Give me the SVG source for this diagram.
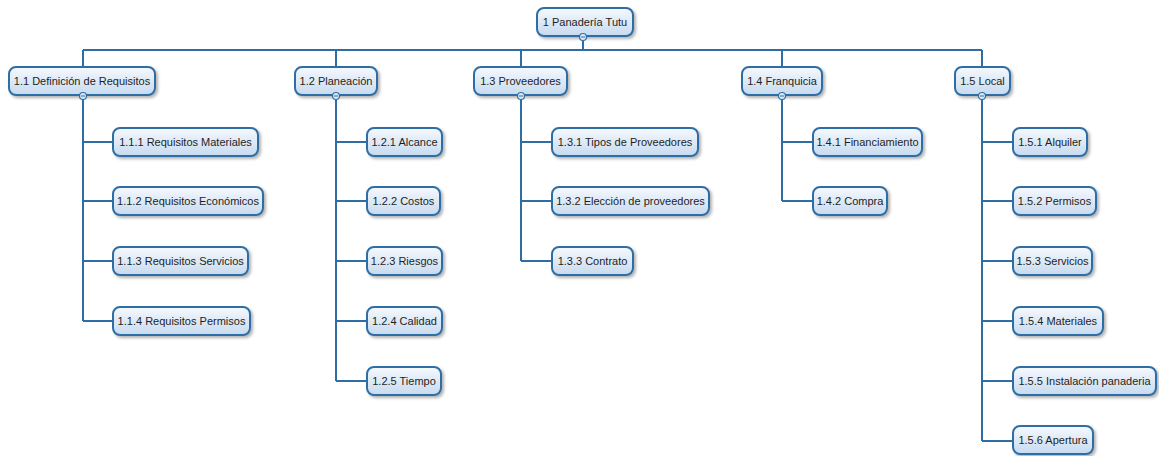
<svg xmlns="http://www.w3.org/2000/svg" width="1159" height="456" viewBox="0 0 1159 456">
<style>
.box{fill:url(#g);stroke:#2f6ea5;stroke-width:2;filter:url(#sh)}
.t{font-family:"Liberation Sans",Arial,sans-serif;font-size:11px;fill:#1e1e1e;text-anchor:middle}
.c{stroke:#2f6ea5;stroke-width:2;fill:none}
.k{fill:#dbe8f5;stroke:#2f6ea5;stroke-width:1.2}
.m{stroke:#2f6ea5;stroke-width:1}
</style>
<defs>
<linearGradient id="g" x1="0" y1="0" x2="0" y2="1">
<stop offset="0" stop-color="#f6f9fd"/>
<stop offset="1" stop-color="#c6daef"/>
</linearGradient>
<filter id="sh" x="-10%" y="-20%" width="130%" height="160%">
<feDropShadow dx="2" dy="2" stdDeviation="1.5" flood-color="#000" flood-opacity="0.3"/>
</filter>
</defs>
<rect width="1159" height="456" fill="#fff"/>
<g id="connectors">
<path class="c" d="M583 40V50M83 50H982M83 50V67M336 50V67M521 50V67M782 50V67M982 50V67"/>
<path class="c" d="M83 99V321M83 142H113M83 201H113M83 261H113M83 321H113"/>
<path class="c" d="M336 99V381M336 142H367M336 201H367M336 261H367M336 321H367M336 381H367"/>
<path class="c" d="M521 99V261M521 142H552M521 201H552M521 261H552"/>
<path class="c" d="M782 99V201M782 142H813M782 201H813"/>
<path class="c" d="M982 99V441M982 142H1013M982 201H1013M982 261H1013M982 321H1013M982 381H1013M982 441H1013"/>
</g>
<g id="n1"><rect class="box" x="537" y="8" width="96" height="28" rx="7"/><text class="t" x="585" y="26">1 Panadería Tutu</text><circle class="k" cx="583" cy="37" r="3.5"/><path class="m" d="M581 37H585"/></g>
<g id="n1_1"><rect class="box" x="9" y="67" width="146" height="28" rx="7"/><text class="t" x="82" y="85">1.1 Definición de Requisitos</text><circle class="k" cx="83" cy="96" r="3.5"/><path class="m" d="M81 96H85"/></g>
<g id="n1_2"><rect class="box" x="295" y="67" width="82" height="28" rx="7"/><text class="t" x="336" y="85">1.2 Planeación</text><circle class="k" cx="336" cy="96" r="3.5"/><path class="m" d="M334 96H338"/></g>
<g id="n1_3"><rect class="box" x="474" y="67" width="93" height="28" rx="7"/><text class="t" x="520.5" y="85">1.3 Proveedores</text><circle class="k" cx="521" cy="96" r="3.5"/><path class="m" d="M519 96H523"/></g>
<g id="n1_4"><rect class="box" x="742" y="67" width="80" height="28" rx="7"/><text class="t" x="782" y="85">1.4 Franquicia</text><circle class="k" cx="782" cy="96" r="3.5"/><path class="m" d="M780 96H784"/></g>
<g id="n1_5"><rect class="box" x="955" y="67" width="55" height="28" rx="7"/><text class="t" x="982.5" y="85">1.5 Local</text><circle class="k" cx="982" cy="96" r="3.5"/><path class="m" d="M980 96H984"/></g>
<g id="n1_1_1"><rect class="box" x="113" y="128" width="145" height="28" rx="7"/><text class="t" x="185.5" y="146">1.1.1 Requisitos Materiales</text></g>
<g id="n1_1_2"><rect class="box" x="113" y="187" width="150" height="28" rx="7"/><text class="t" x="188" y="205">1.1.2 Requisitos Económicos</text></g>
<g id="n1_1_3"><rect class="box" x="113" y="247" width="135" height="28" rx="7"/><text class="t" x="180.5" y="265">1.1.3 Requisitos Servicios</text></g>
<g id="n1_1_4"><rect class="box" x="113" y="307" width="137" height="28" rx="7"/><text class="t" x="181.5" y="325">1.1.4 Requisitos Permisos</text></g>
<g id="n1_2_1"><rect class="box" x="367" y="128" width="75" height="28" rx="7"/><text class="t" x="404.5" y="146">1.2.1 Alcance</text></g>
<g id="n1_2_2"><rect class="box" x="367" y="187" width="73" height="28" rx="7"/><text class="t" x="403.5" y="205">1.2.2 Costos</text></g>
<g id="n1_2_3"><rect class="box" x="367" y="247" width="75" height="28" rx="7"/><text class="t" x="404.5" y="265">1.2.3 Riesgos</text></g>
<g id="n1_2_4"><rect class="box" x="367" y="307" width="75" height="28" rx="7"/><text class="t" x="404.5" y="325">1.2.4 Calidad</text></g>
<g id="n1_2_5"><rect class="box" x="367" y="367" width="74" height="28" rx="7"/><text class="t" x="404" y="385">1.2.5 Tiempo</text></g>
<g id="n1_3_1"><rect class="box" x="552" y="128" width="146" height="28" rx="7"/><text class="t" x="625" y="146">1.3.1 Tipos de Proveedores</text></g>
<g id="n1_3_2"><rect class="box" x="552" y="187" width="157" height="28" rx="7"/><text class="t" x="630.5" y="205">1.3.2 Elección de proveedores</text></g>
<g id="n1_3_3"><rect class="box" x="552" y="247" width="81" height="28" rx="7"/><text class="t" x="592.5" y="265">1.3.3 Contrato</text></g>
<g id="n1_4_1"><rect class="box" x="813" y="128" width="109" height="28" rx="7"/><text class="t" x="867.5" y="146">1.4.1 Financiamiento</text></g>
<g id="n1_4_2"><rect class="box" x="813" y="187" width="74" height="28" rx="7"/><text class="t" x="850" y="205">1.4.2 Compra</text></g>
<g id="n1_5_1"><rect class="box" x="1013" y="128" width="74" height="28" rx="7"/><text class="t" x="1050" y="146">1.5.1 Alquiler</text></g>
<g id="n1_5_2"><rect class="box" x="1013" y="187" width="83" height="28" rx="7"/><text class="t" x="1054.5" y="205">1.5.2 Permisos</text></g>
<g id="n1_5_3"><rect class="box" x="1013" y="247" width="79" height="28" rx="7"/><text class="t" x="1052.5" y="265">1.5.3 Servicios</text></g>
<g id="n1_5_4"><rect class="box" x="1013" y="307" width="90" height="28" rx="7"/><text class="t" x="1058" y="325">1.5.4 Materiales</text></g>
<g id="n1_5_5"><rect class="box" x="1013" y="367" width="143" height="28" rx="7"/><text class="t" x="1084.5" y="385">1.5.5 Instalación panaderia</text></g>
<g id="n1_5_6"><rect class="box" x="1013" y="426" width="80" height="28" rx="7"/><text class="t" x="1053" y="444">1.5.6 Apertura</text></g>
</svg>
